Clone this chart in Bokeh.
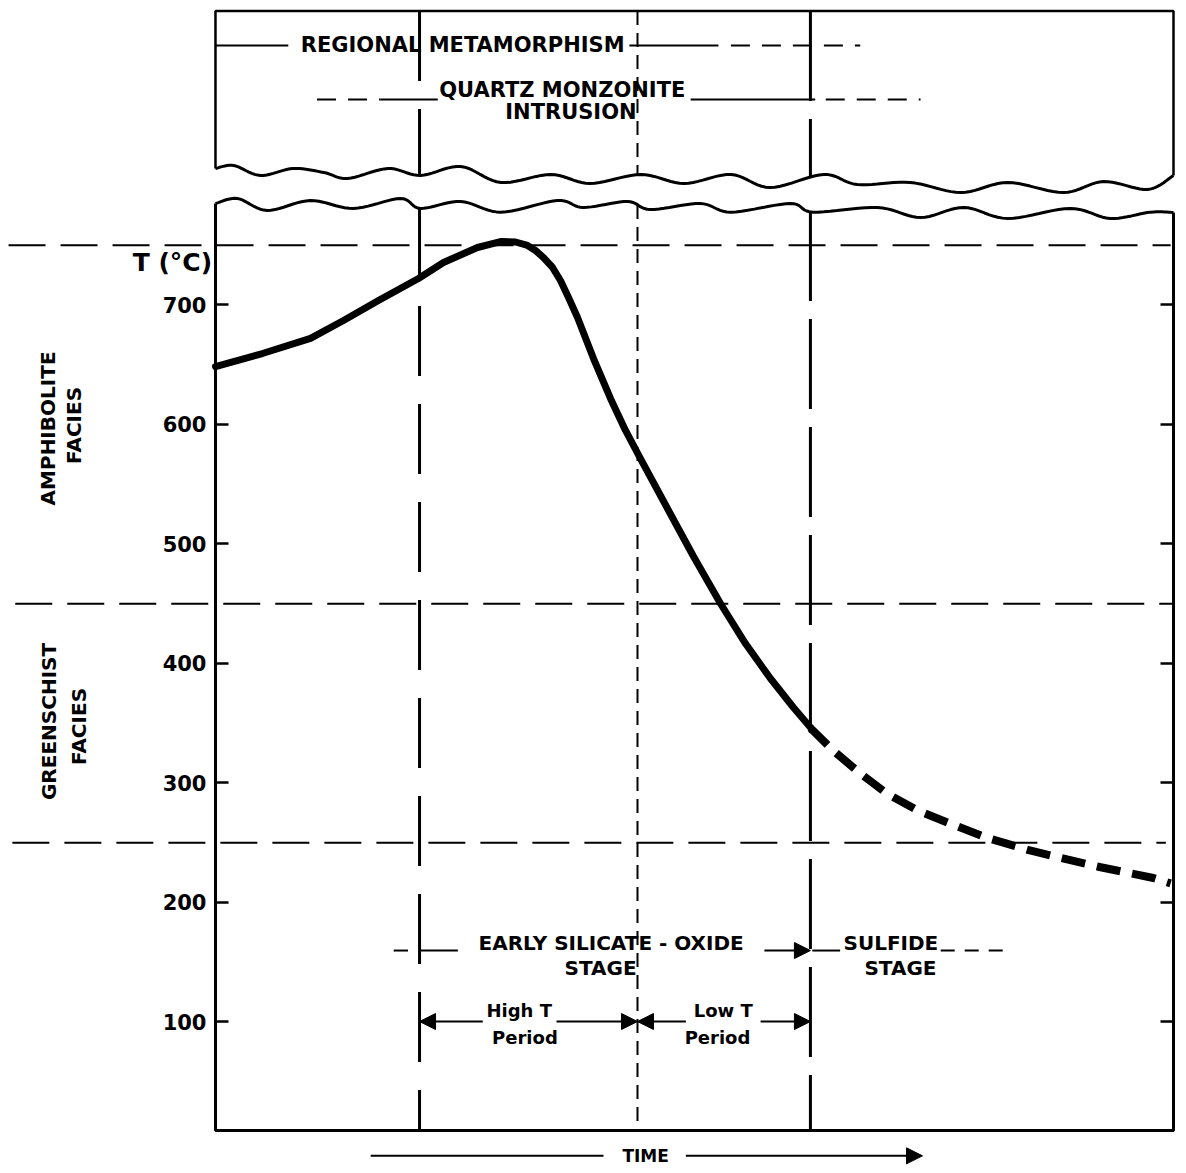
import numpy as np
from bokeh.plotting import figure
from bokeh.models import (LinearAxis, FixedTicker, Arrow, NormalHead, Range1d,
                          CustomJSTickFormatter)
from bokeh.core.properties import value
from bokeh.embed import file_html
from bokeh.resources import INLINE

# ---------------- data (time in arbitrary units 0-100, temperature in degC) -------------
curve_time = [0.0, 4.9, 9.92, 13.36, 17.01, 21.19, 23.80, 27.35, 29.75, 31.32, 32.57, 33.40,
              34.24, 35.18, 36.01, 36.85, 37.79, 39.46, 41.23, 42.80, 44.36, 47.18,
              49.90, 52.71, 55.32, 57.93, 60.33, 62.11]
curve_temp = [648.5, 659.4, 672.0, 687.0, 703.8, 722.2, 735.6, 748.1, 753.1, 752.7, 749.8, 745.6,
              739.7, 731.4, 720.5, 706.3, 689.5, 655.2, 621.8, 595.0, 571.5, 529.7,
              489.5, 450.2, 416.7, 387.4, 363.2, 346.4]

cool_time = [62.1, 64.5, 67.3, 70.1, 73.3, 76.7, 80.6, 84.8, 88.9, 92.4, 97.9, 99.7]
cool_temp = [346, 327, 308, 291, 277, 266, 254, 244, 236, 229.5, 220.5, 216]

temp_ticks = [100, 200, 300, 400, 500, 600, 700]
facies_bounds = [750, 450, 250]
facies_line_start = [-21.6, -20.9, -21.2]
facies_line_end = [99.7, 100.0, 99.2]

# event lines: start of silicate stage / end of high-T period / start of sulfide stage
event_times = [21.3, 44.05, 62.1]
event_dash = ["70 28", "14 8", "90 18"]
event_width = [3, 2, 3]

axis_bottom_temp = 9.2
panel_top_temp = 946.0

# broken-axis edges
upper_break_t = [0, 1.9, 4.7, 8.1, 11.3, 13.8, 18.0, 21.4, 25.6, 29.8, 35.0, 39.1, 44.4,
                 48.9, 53.8, 57.9, 63.5, 67.0, 72.5, 77.8, 82.7, 88.5, 92.7, 97.3, 100]
upper_break_T = [814.2, 816.7, 808.4, 814.2, 810.9, 805.9, 814.2, 808.4, 815.9, 802.5,
                 809.2, 801.7, 809.2, 801.7, 809.2, 798.3, 809.2, 800.8, 802.5, 794.1,
                 802.5, 794.1, 803.3, 796.7, 808.4]
lower_break_t = [0, 2.3, 5.4, 9.9, 14.4, 19.3, 21.4, 25.6, 29.8, 35.7, 38.4, 43.0, 45.4,
                 50.6, 53.8, 60.0, 62.4, 69.1, 73.6, 78.1, 82.7, 89.2, 93.4, 97.6, 100]
lower_break_T = [784.9, 789.1, 779.1, 787.4, 780.8, 789.1, 780.8, 786.6, 777.7, 787.4,
                 781.6, 786.6, 779.9, 784.9, 777.7, 784.9, 777.7, 781.6, 773.2, 781.6,
                 772.4, 780.8, 772.4, 777.7, 777.4]

# top-panel timelines
regional_label = ("REGIONAL METAMORPHISM", 25.8, 917.2)
regional_solid = [(0, 7.6), (43.2, 52.5)]
regional_dashed = [(53.8, 67.3)]
intrusion_labels = [("QUARTZ MONZONITE", 36.2, 880.3), ("INTRUSION", 37.1, 861.1)]
intrusion_row = 872.0
intrusion_solid = [(17.2, 23.2), (49.6, 62.6)]
intrusion_dashed = [(10.6, 17.2), (63.7, 73.6)]

# bottom stage annotations
stage_labels = [("EARLY SILICATE - OXIDE", 41.3, 166.5), ("STAGE", 40.2, 145.6),
                ("SULFIDE", 70.5, 166.5), ("STAGE", 71.5, 145.6)]
stage_row = 159.8
stage_solid = [(18.6, 20.1), (21.3, 25.3), (62.3, 65.2)]
stage_dashed = [(75.7, 82.6)]
stage_arrow = (57.3, 62.1)

period_labels = [("High T", 31.7, 109.6), ("Period", 32.3, 87.0),
                 ("Low T", 53.0, 109.6), ("Period", 52.4, 87.0)]
period_row = 100.4
period_arrows = [(27.9, 21.3), (35.6, 44.05), (49.1, 44.05), (56.9, 62.1)]

facies_labels = [("AMPHIBOLITE", -17.5, 596.7), ("FACIES", -14.8, 599.2),
                 ("GREENSCHIST", -17.4, 351.5), ("FACIES", -14.2, 347.3)]
unit_label = ("T (°C)", -4.5, 735.6)
time_label = ("TIME", 44.9, -12.0)
time_line = (16.2, 40.5)
time_arrow = (49.1, 73.8)

FONT = value("DejaVu Sans")


def smooth(xs, ys, n=10):
    """Catmull-Rom smoothing for the decorative broken-axis edges."""
    P = np.column_stack([xs, ys]).astype(float)
    P = np.vstack([P[0], P, P[-1]])
    out = []
    for i in range(1, len(P) - 2):
        p0, p1, p2, p3 = P[i - 1], P[i], P[i + 1], P[i + 2]
        for s in np.linspace(0, 1, n, endpoint=False):
            out.append(0.5 * (2 * p1 + (-p0 + p2) * s + (2 * p0 - 5 * p1 + 4 * p2 - p3) * s * s
                              + (-p0 + 3 * p1 - 3 * p2 + p3) * s ** 3))
    out.append(P[-2])
    out = np.array(out)
    return out[:, 0], out[:, 1]


p = figure(width=1180, height=1170, x_range=Range1d(-22.44, 100.73),
           y_range=Range1d(-24.27, 954.8), x_axis_type=None, y_axis_type=None,
           toolbar_location=None, output_backend="svg", min_border=0,
           outline_line_color=None, background_fill_color="white")

# axes (ticks + labels through Bokeh axes at fixed positions)
left = LinearAxis(fixed_location=0, ticker=FixedTicker(ticks=temp_ticks),
                  major_tick_in=13, major_tick_out=0, minor_tick_in=0, minor_tick_out=0,
                  axis_line_color=None, major_tick_line_width=2.5, major_label_standoff=9,
                  major_label_text_font="DejaVu Sans", major_label_text_font_style="bold",
                  major_label_text_font_size="21px", major_label_text_color="black")
p.add_layout(left, "left")
right = LinearAxis(fixed_location=100, ticker=FixedTicker(ticks=temp_ticks),
                   major_tick_in=13, major_tick_out=0, minor_tick_in=0, minor_tick_out=0,
                   axis_line_color=None, major_tick_line_width=2.5,
                   formatter=CustomJSTickFormatter(code="return ''"))
p.add_layout(right, "right")

# panels
ux, uy = smooth(upper_break_t, upper_break_T)
lx, ly = smooth(lower_break_t, lower_break_T)
p.line(ux, uy, line_color="black", line_width=3)
p.line(lx, ly, line_color="black", line_width=3)
p.line([0, 0, 100, 100], [upper_break_T[0], panel_top_temp, panel_top_temp, upper_break_T[-1]],
       line_color="black", line_width=2.5)
p.line([0, 0, 100, 100], [lower_break_T[0], axis_bottom_temp, axis_bottom_temp, lower_break_T[-1]],
       line_color="black", line_width=3)

# facies boundaries
for T, a, b in zip(facies_bounds, facies_line_start, facies_line_end):
    p.line([a, b], [T, T], line_color="black", line_width=2, line_dash="37 15")

# event lines
for t, d, w in zip(event_times, event_dash, event_width):
    top_edge = float(np.interp(t, upper_break_t, upper_break_T))
    low_edge = float(np.interp(t, lower_break_t, lower_break_T))
    p.line([t, t], [panel_top_temp, top_edge], line_color="black", line_width=w, line_dash=d)
    p.line([t, t], [low_edge, axis_bottom_temp], line_color="black", line_width=w, line_dash=d)

# temperature curve
p.line(curve_time, curve_temp, line_color="black", line_width=7,
       line_join="round", line_cap="round")
p.line(cool_time, cool_temp, line_color="black", line_width=8, line_dash="24 12")


def txt(items, size, angle=0.0, style="bold"):
    p.text(x=[i[1] for i in items], y=[i[2] for i in items], text=[i[0] for i in items],
           angle=angle, text_font=FONT, text_font_style=style, text_font_size=size,
           text_color="black", text_align="center", text_baseline="middle")


# top panel timelines
txt([regional_label], "21px")
for a, b in regional_solid:
    p.line([a, b], [regional_label[2]] * 2, line_color="black", line_width=2)
for a, b in regional_dashed:
    p.line([a, b], [regional_label[2]] * 2, line_color="black", line_width=2, line_dash="19 12")
txt(intrusion_labels, "21px")
for a, b in intrusion_solid:
    p.line([a, b], [intrusion_row] * 2, line_color="black", line_width=2)
for a, b in intrusion_dashed:
    p.line([a, b], [intrusion_row] * 2, line_color="black", line_width=2, line_dash="19 12")

# stages
txt(stage_labels, "20px")
for a, b in stage_solid:
    p.line([a, b], [stage_row] * 2, line_color="black", line_width=2)
for a, b in stage_dashed:
    p.line([a, b], [stage_row] * 2, line_color="black", line_width=2, line_dash="14 10")
p.add_layout(Arrow(end=NormalHead(size=16, fill_color="black", line_color="black"),
                   x_start=stage_arrow[0], y_start=stage_row, x_end=stage_arrow[1], y_end=stage_row,
                   line_color="black", line_width=2))

txt(period_labels, "18px")
for a, b in period_arrows:
    p.add_layout(Arrow(end=NormalHead(size=16, fill_color="black", line_color="black"),
                       x_start=a, y_start=period_row, x_end=b, y_end=period_row,
                       line_color="black", line_width=2))

txt(facies_labels, "20px", angle=np.pi / 2)
txt([unit_label], "25px")
txt([time_label], "17px")
p.line(list(time_line), [time_label[2]] * 2, line_color="black", line_width=2)
p.add_layout(Arrow(end=NormalHead(size=16, fill_color="black", line_color="black"),
                   x_start=time_arrow[0], y_start=time_label[2], x_end=time_arrow[1],
                   y_end=time_label[2], line_color="black", line_width=2))

open("out.html", "w").write(file_html(p, INLINE))
